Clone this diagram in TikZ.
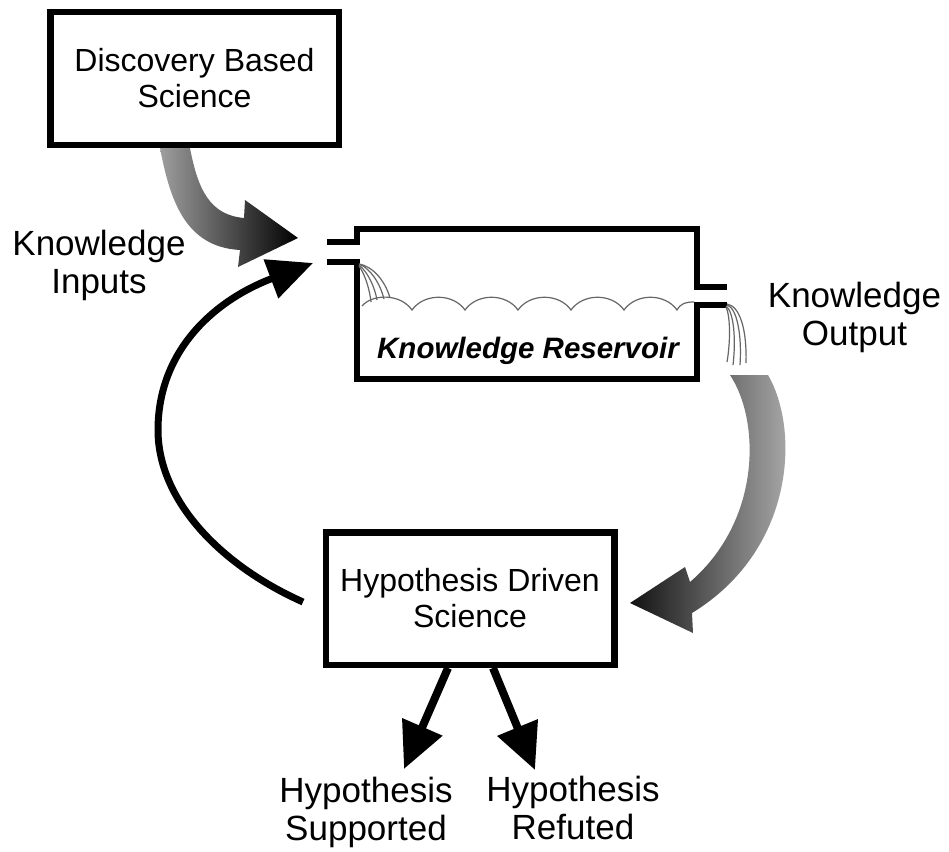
\documentclass[tikz,border=0pt]{standalone}
\usepackage{fontspec}
\setmainfont{Liberation Sans}
\usetikzlibrary{arrows.meta}
\begin{document}
\begin{tikzpicture}[x=1pt,y=-1pt,
  box/.style={draw, line width=6.5pt, minimum width=288.5pt, minimum height=132.5pt,
    inner sep=0pt, font=\fontsize{32}{36}\selectfont, align=center},
  lbl/.style={font=\fontsize{35}{38}\selectfont, align=center, inner sep=0pt},
  wall/.style={line width=6pt, line cap=butt, line join=miter},
  water/.style={draw=black!60, line width=1.2pt},
  loop/.style={line width=7pt, -{Triangle[length=45pt,width=40pt]}},
  outcome/.style={line width=8pt, -{Triangle[length=46pt,width=42pt]}}]
\useasboundingbox[fill=white] (0,0) rectangle (949,851);

% boxes
\node[box] (disc) at (194.5,78.5) {Discovery Based\\Science};
\node[box] (hyp) at (470,598.5) {Hypothesis Driven\\Science};

% labels
\node[lbl] (kin) at (99,265) {Knowledge\\Inputs};
\node[lbl] (kout) at (854.5,317) {Knowledge\\Output};
\node[lbl] (hsup) at (366,812) {Hypothesis\\Supported};
\node[lbl] (href) at (573,808) {Hypothesis\\Refuted};

% reservoir
\draw[wall] (327,242) -- (357,242) -- (357,229) -- (697,229) -- (697,287) -- (727,287);
\draw[wall] (327,262) -- (357,262) -- (357,379) -- (697,379) -- (697,305) -- (727,305);
\node[font=\fontsize{29.5}{34}\selectfont\bfseries\itshape, anchor=base, inner sep=0pt]
  (res) at (528,358) {Knowledge Reservoir};

% water surface
\draw[water] (362,306) .. controls (372,294) and (400,293) .. (412,310)
  .. controls (424,293) and (453,293) .. (465,310)
  .. controls (477,293) and (506,293) .. (518,310)
  .. controls (530,293) and (559,293) .. (571,310)
  .. controls (583,293) and (612,293) .. (624,310)
  .. controls (636,293) and (665,293) .. (677,310)
  .. controls (681,303) and (686,302) .. (694,302);

% inflow
\draw[water] (359,264) .. controls (372,266) and (385,280) .. (390,298);
\draw[water] (359,264) .. controls (370,268) and (380,283) .. (384,299);
\draw[water] (359,265) .. controls (368,272) and (375,288) .. (377,300);
\draw[water] (359,266) .. controls (366,276) and (370,292) .. (371,302);

% outflow
\draw[water] (727,304) .. controls (740,306) and (747,330) .. (746,363);
\draw[water] (727,305) .. controls (737,308) and (742,335) .. (740,365);
\draw[water] (726,306) .. controls (734,312) and (736,340) .. (733,365);
\draw[water] (726,307) .. controls (731,318) and (730,345) .. (727,362);

% gray arrow: discovery -> inputs
\shade[left color=black!38, right color=black]
  (160,148) .. controls (170,200) and (185,247) .. (240,250) -- (238,267) -- (298,238)
  -- (245,200) -- (244,218) .. controls (210,215) and (198,190) .. (190,148) -- cycle;

% gray arrow: output -> hypothesis
\shade[left color=black!93, right color=black!30]
  (730,375) .. controls (760,420) and (762,520) .. (690,582) -- (685,567) -- (630,603)
  -- (693,633) -- (692,613) .. controls (795,550) and (800,430) .. (768,375) -- cycle;

% black loop arrow
\coordinate (bstart) at (303,602);
\coordinate (intip) at (313,263);
\draw[loop] (bstart) .. controls (220,565) and (158,500) .. (158,430)
  .. controls (158,350) and (215,300) .. (intip);

% outcome arrows
\coordinate (tsup) at (404,769);
\coordinate (tref) at (535,770);
\draw[outcome] ([xshift=-22pt]hyp.south) -- (tsup);
\draw[outcome] ([xshift=23pt]hyp.south) -- (tref);
\end{tikzpicture}
\end{document}
